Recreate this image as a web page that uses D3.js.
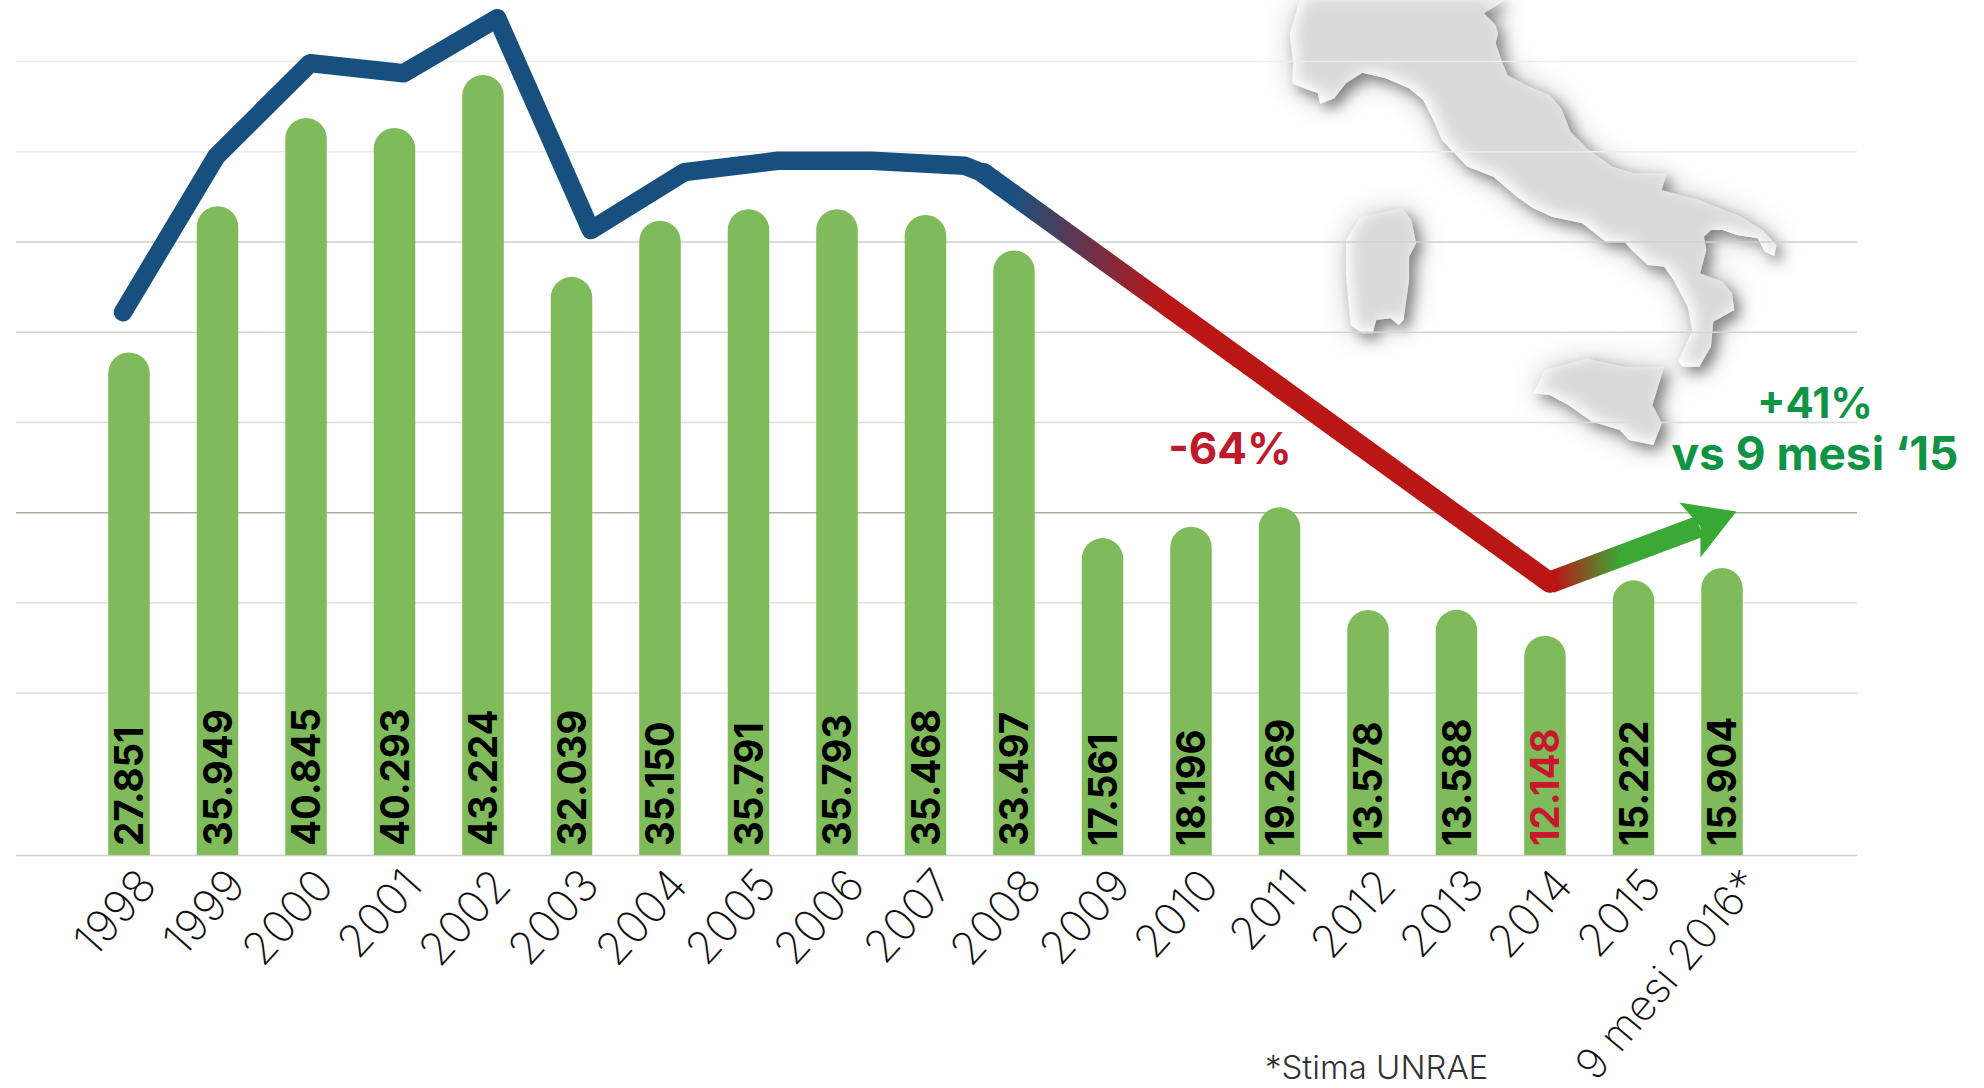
<!DOCTYPE html>
<html>
<head>
<meta charset="utf-8">
<script src="https://cdn.jsdelivr.net/npm/d3@7"></script>
<style>
  body { margin: 0; background: #fff; }
  svg { display: block; }
  .domain { display: none; }
</style>
</head>
<body>
<svg id="chart"></svg>
<script>
const years = ["1998", "1999", "2000", "2001", "2002", "2003", "2004", "2005", "2006", "2007",
  "2008", "2009", "2010", "2011", "2012", "2013", "2014", "2015", "9 mesi 2016*"];
const sales = [27851, 35949, 40845, 40293, 43224, 32039, 35150, 35791, 35793, 35468,
  33497, 17561, 18196, 19269, 13578, 13588, 12148, 15222, 15904];
const gridTicks = [0, 9000, 14000, 19000, 24000, 29000, 34000, 39000, 44000];

// the overlaid line has no axis of its own, values estimated on the bar scale
const lineSteps = [0, 1, 2, 3, 4, 5, 6, 7, 8, 9, 9.2];
const lineValues = [30080, 38730, 43880, 43320, 46370, 34630, 37840, 38470, 38470, 38190, 37780];
const dropSteps = [9.2, 15.25];
const dropValues = [37780, 15100];
const trendSteps = [15.25, 16.85];
const trendValues = [15100, 18200];

// outline of the map (crop coordinates, see mapShape transform)
const mainland = [[545,0],[500,40],[525,75],[530,100],[525,130],[540,190],[550,225],[590,255],[640,285],[665,325],
  [685,395],[720,445],[775,500],[820,520],[890,520],[880,570],[960,600],[1050,650],[1095,690],[1125,735],[1120,768],
  [1100,755],[1085,715],[1040,705],[1010,690],[985,690],[970,710],[975,750],[962,820],[1010,845],[1030,880],[1035,930],
  [990,965],[985,1040],[960,1100],[925,1100],[915,1085],[945,990],[935,920],[905,840],[885,800],[850,795],[815,750],
  [800,725],[760,725],[710,670],[645,650],[605,625],[570,590],[520,530],[465,500],[430,450],[410,420],[395,370],
  [370,300],[340,265],[290,235],[240,218],[205,250],[180,295],[150,312],[145,280],[115,265],[90,250],[92,190],
  [85,100],[100,30],[105,0]];
const sardinia = [[325,625],[345,660],[355,730],[340,770],[340,840],[328,960],[318,975],[300,955],[270,960],[262,1000],
  [240,1000],[215,975],[210,900],[205,820],[205,720],[235,650]];
const sicily = [[605,1180],[630,1110],[720,1075],[800,1100],[885,1100],[860,1215],[880,1270],[862,1335],[810,1320],
  [790,1290],[730,1265],[680,1215],[640,1185]];

const width = 1984;
const height = 1088;
const baseline = 855;
const barColor = "#7fbb5a";
const gridColors = ["#cfcfca", "#dedfda", "#e2e2dc", "#a9b09f", "#dcdcd6", "#d5d5d0", "#cfcfcb", "#ededed", "#ececec"];

const svg = d3.select("#chart").attr("width", width).attr("height", height);
const defs = svg.append("defs");

const x = d3.scaleBand()
  .domain(years)
  .range([84.75, 1766.25])
  .paddingInner(0.531)
  .paddingOuter(0.2655);
const y = d3.scaleLinear()
  .domain([0, 43224])
  .range([baseline, 75]);
const lineX = d3.scaleLinear()
  .domain([0, 9])
  .range([123, 965]);

// map first, the grid runs over it. two shadows outside, pale rim inside
const shadow = defs.append("filter").attr("id", "mapShadow")
  .attr("filterUnits", "userSpaceOnUse")
  .attr("x", 1200).attr("y", -40).attr("width", 700).attr("height", 560);
const blurLayer = (std, dx, dy, colour, opacity, name) => {
  shadow.append("feGaussianBlur").attr("in", "SourceAlpha").attr("stdDeviation", std).attr("result", name + "B");
  shadow.append("feOffset").attr("in", name + "B").attr("dx", dx).attr("dy", dy).attr("result", name + "O");
  shadow.append("feFlood").attr("flood-color", colour).attr("flood-opacity", opacity).attr("result", name + "F");
};
blurLayer(15, 2, 2, "#c6c6c6", 1, "wide");
shadow.append("feComposite").attr("in", "wideF").attr("in2", "wideO").attr("operator", "in").attr("result", "wide");
blurLayer(7, 6, 6, "#828282", 1, "near");
shadow.append("feComposite").attr("in", "nearF").attr("in2", "nearO").attr("operator", "in").attr("result", "near");
blurLayer(7, 5, -3, "#fff", 1, "rim");
shadow.append("feComposite").attr("in", "rimF").attr("in2", "rimO").attr("operator", "out").attr("result", "rimAll");
shadow.append("feComposite").attr("in", "rimAll").attr("in2", "SourceAlpha").attr("operator", "in").attr("result", "rim");
const merge = shadow.append("feMerge");
merge.append("feMergeNode").attr("in", "wide");
merge.append("feMergeNode").attr("in", "near");
merge.append("feMergeNode").attr("in", "SourceGraphic");
merge.append("feMergeNode").attr("in", "rim");

const outline = d3.line().curve(d3.curveLinearClosed);
const mapShape = svg.append("g")
  .attr("filter", "url(#mapShadow)")
  .append("g")
  .attr("transform", "translate(1250,0) scale(0.468,0.3333)");
[mainland, sardinia, sicily].forEach(part => {
  mapShape.append("path").attr("d", outline(part)).attr("fill", "#dadada");
});

const grid = svg.append("g")
  .attr("transform", "translate(16,0)")
  .call(d3.axisLeft(y).tickValues(gridTicks).tickSize(-1841).tickFormat(""));
grid.selectAll(".tick line")
  .attr("stroke", (d, i) => gridColors[i])
  .attr("stroke-width", 1.5);

// bars with a round top
const r = x.bandwidth() / 2;
svg.append("g").selectAll("path")
  .data(years)
  .join("path")
  .attr("fill", barColor)
  .attr("d", (d, i) => {
    const left = x(d);
    return `M${left},${baseline}V${y(sales[i]) + r}A${r},${r} 0 0 1 ${left + 2 * r},${y(sales[i]) + r}V${baseline}Z`;
  });

const it = d3.formatLocale({ decimal: ",", thousands: ".", grouping: [3], currency: ["", ""] }).format(",d");
svg.append("g").selectAll("text")
  .data(years)
  .join("text")
  .attr("transform", (d, i) => `translate(${x(d) + r + 14},846) rotate(-90) scale(0.96,1)`)
  .attr("font-family", "Inter")
  .attr("font-weight", 700)
  .attr("font-size", 40)
  .attr("fill", (d, i) => d === "2014" ? "#c8162c" : "#000")
  .text((d, i) => it(sales[i]));

// x axis, slanted labels. the long last one is steeper in the original
const axis = svg.append("g")
  .attr("transform", `translate(0,${baseline})`)
  .call(d3.axisBottom(x).tickSize(0).tickPadding(0));
axis.selectAll(".tick text")
  .attr("font-family", "Inter")
  .attr("font-weight", 200)
  .attr("font-size", d => d.length > 4 ? 43 : 45)
  .attr("fill", "#111")
  .attr("text-anchor", "end")
  .attr("dy", 0)
  .attr("y", 0)
  .attr("transform", d => d.length > 4 ? "translate(40,30) rotate(-50)" : "translate(30,32) rotate(-48)");

// overlaid line, blue to red, then green arrow
const lineGrad = defs.append("linearGradient").attr("id", "lineGrad")
  .attr("gradientUnits", "userSpaceOnUse")
  .attr("x1", 1010).attr("x2", 1165).attr("y1", 0).attr("y2", 0);
lineGrad.append("stop").attr("offset", 0).attr("stop-color", "#17507f");
lineGrad.append("stop").attr("offset", 1).attr("stop-color", "#bb1616");

const trendGrad = defs.append("linearGradient").attr("id", "trendGrad")
  .attr("gradientUnits", "userSpaceOnUse")
  .attr("x1", 1555).attr("x2", 1620).attr("y1", 0).attr("y2", 0);
trendGrad.append("stop").attr("offset", 0).attr("stop-color", "#bb1616");
trendGrad.append("stop").attr("offset", 1).attr("stop-color", "#3aa935");

const line = d3.line().x(d => lineX(d[0])).y(d => y(d[1]));

svg.append("path")
  .attr("d", line(d3.zip(trendSteps, trendValues)))
  .attr("fill", "none")
  .attr("stroke", "url(#trendGrad)")
  .attr("stroke-width", 22);

svg.append("path")
  .attr("d", line(d3.zip(lineSteps, lineValues)))
  .attr("fill", "none")
  .attr("stroke", "#17507f")
  .attr("stroke-width", 18.5)
  .attr("stroke-linecap", "round")
  .attr("stroke-linejoin", "round");

svg.append("path")
  .attr("d", line(d3.zip(dropSteps, dropValues)))
  .attr("fill", "none")
  .attr("stroke", "url(#lineGrad)")
  .attr("stroke-width", 20.5)
  .attr("stroke-linecap", "round");

// arrow head sits on the end of the trend segment
const headX = lineX(trendSteps[1]);
const headY = y(trendValues[1]);
svg.append("path")
  .attr("d", `M${headX - 20},${headY - 24}L${headX + 37},${headY - 15}L${headX + 1},${headY + 31}L${headX + 1},${headY}Z`)
  .attr("fill", "#38a935");

svg.append("text")
  .attr("x", 1230).attr("y", 464)
  .attr("text-anchor", "middle")
  .attr("font-family", "Inter").attr("font-weight", 700).attr("font-size", 44)
  .attr("fill", "#be1a2c")
  .text("-64%");

svg.append("text")
  .attr("x", 1815).attr("y", 418)
  .attr("text-anchor", "middle")
  .attr("font-family", "Inter").attr("font-weight", 700).attr("font-size", 42)
  .attr("fill", "#0f9446")
  .text("+41%");

svg.append("text")
  .attr("x", 1815).attr("y", 470)
  .attr("text-anchor", "middle")
  .attr("font-family", "Inter").attr("font-weight", 700).attr("font-size", 46)
  .attr("fill", "#0f9446")
  .text("vs 9 mesi ‘15");

svg.append("text")
  .attr("x", 1265).attr("y", 1079)
  .attr("font-family", "Inter").attr("font-weight", 300).attr("font-size", 33)
  .attr("fill", "#333")
  .text("*Stima UNRAE");
</script>
</body>
</html>
